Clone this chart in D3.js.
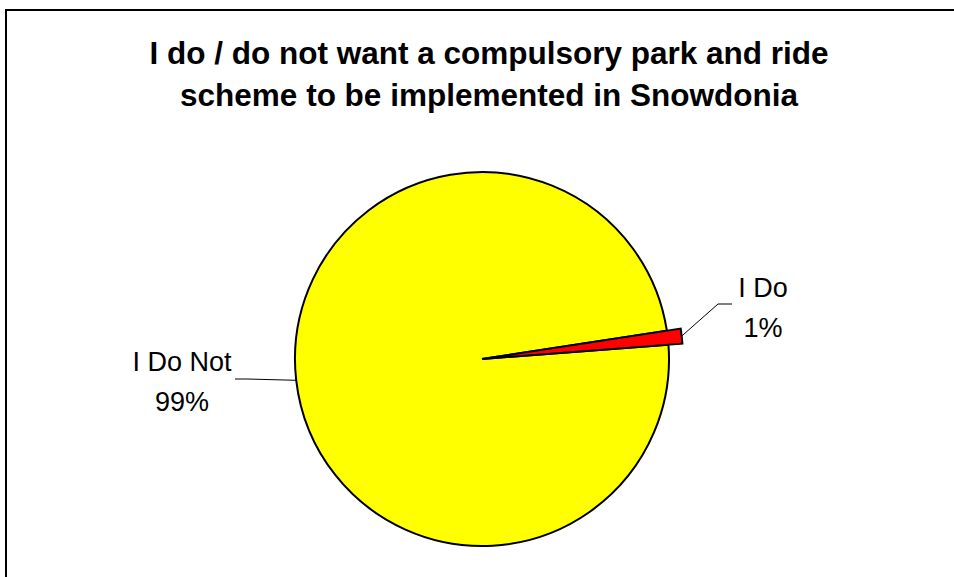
<!DOCTYPE html>
<html>
<head>
<meta charset="utf-8">
<script src="https://cdn.jsdelivr.net/npm/d3@7"></script>
<style>
  body { margin: 0; background: #fff; }
  svg { display: block; font-family: Arial, "Liberation Sans", sans-serif; }
</style>
</head>
<body>
<div id="chart"></div>
<script>
// chart data
const categories = ["I Do", "I Do Not"];
const values = [1.2, 98.8];
const sliceColors = ["#ff0000", "#ffff00"];
const titleLines = [
    "I do / do not want a compulsory park and ride",
    "scheme to be implemented in Snowdonia"
];

const width = 954, height = 577;
const cx = 482, cy = 359, radius = 187;
const total = d3.sum(values);

let svg = d3.select("#chart")
    .append("svg")
    .attr("width", width)
    .attr("height", height);

// frame (runs off the right and bottom edge)
svg.append("rect")
    .attr("x", 6)
    .attr("y", 10)
    .attr("width", 1200)
    .attr("height", 1200)
    .attr("fill", "#fff")
    .attr("stroke", "#000")
    .attr("stroke-width", 2);

// title
svg.append("g")
    .selectAll("text")
    .data(titleLines)
    .join("text")
    .attr("x", 489)
    .attr("y", (d, i) => 64 + i * 42)
    .attr("text-anchor", "middle")
    .attr("font-size", "31.5px")
    .attr("font-weight", "bold")
    .attr("fill", "#000")
    .text(d => d);

let pie = d3.pie()
    .sort(null)
    .startAngle(81.3 * Math.PI / 180)
    .endAngle((81.3 + 360) * Math.PI / 180);

let arcs = pie(values).map((d, i) => ({ ...d, name: categories[i], color: sliceColors[i] }));

// the small slice sticks out a bit past the rim
let outerFor = d => d.index === 0 ? radius + 14 : radius;
let arc = d3.arc().innerRadius(0).outerRadius(outerFor);

let g = svg.append("g").attr("transform", `translate(${cx},${cy})`);

g.selectAll("path.slice")
    .data(arcs.slice().reverse())
    .join("path")
    .attr("class", "slice")
    .attr("d", arc)
    .attr("fill", d => d.color)
    .attr("stroke", "#000")
    .attr("stroke-width", 2)
    .attr("stroke-linejoin", "miter");

// label placement (relative to chart center)
const labelPos = [
    { x: 763 - cx, y: 297 - cy, knee: [718 - cx, 304 - cy], end: [732 - cx, 304 - cy] },
    { x: 182 - cx, y: 371 - cy, knee: [247 - cx, 379 - cy], end: [235 - cx, 379 - cy] }
];

function edgePoint(d) {
    let a = (d.startAngle + d.endAngle) / 2;
    let r = outerFor(d);
    return [r * Math.sin(a), -r * Math.cos(a)];
}

// leader lines
g.selectAll("polyline.leader")
    .data(arcs)
    .join("polyline")
    .attr("class", "leader")
    .attr("points", (d, i) => [edgePoint(d), labelPos[i].knee, labelPos[i].end].map(p => p.join(",")).join(" "))
    .attr("fill", "none")
    .attr("stroke", "#000")
    .attr("stroke-width", 1);

// labels
let labels = g.selectAll("text.label")
    .data(arcs)
    .join("text")
    .attr("class", "label")
    .attr("text-anchor", "middle")
    .attr("font-size", "27px")
    .attr("fill", "#000");

labels.append("tspan")
    .attr("x", (d, i) => labelPos[i].x)
    .attr("y", (d, i) => labelPos[i].y)
    .text(d => d.name);

labels.append("tspan")
    .attr("x", (d, i) => labelPos[i].x)
    .attr("y", (d, i) => labelPos[i].y + 40)
    .text(d => Math.round(d.value / total * 100) + "%");
</script>
</body>
</html>
